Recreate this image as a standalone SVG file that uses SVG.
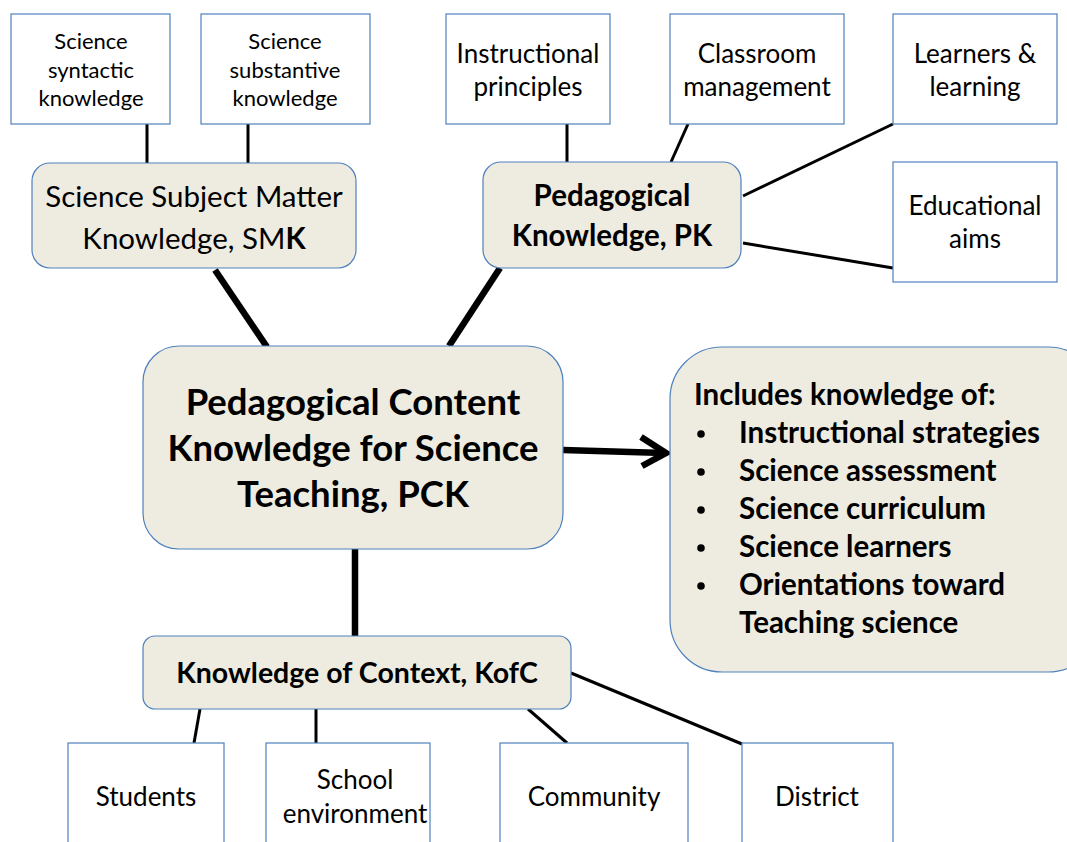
<svg xmlns="http://www.w3.org/2000/svg" width="1067" height="842" viewBox="0 0 1067 842">
  <style>
    .leaf { fill: #ffffff; stroke: #4f81bd; stroke-width: 1.2; }
    .hub { fill: #eeece1; stroke: #4f81bd; stroke-width: 1.2; }
    text { font-family: Lato, "Open Sans", "Liberation Sans", sans-serif; fill: #000; text-anchor: middle; }
    .s20 { font-size: 22px; }
    .s24 { font-size: 26px; }
    .s27 { font-size: 29.5px; }
    .b { font-weight: bold; }
    .thin { stroke: #000; stroke-width: 3; fill: none; }
    .thick { stroke: #000; stroke-width: 6.5; fill: none; }
    .list { text-anchor: start; font-size: 29.5px; font-weight: bold; }
    .dot { fill: #000; }
  </style>

  <rect width="1067" height="842" fill="#ffffff"/>

  <!-- connectors -->
  <g id="connectors">
    <line class="thin" x1="147" y1="124" x2="147" y2="163"/>
    <line class="thin" x1="248" y1="124" x2="248" y2="163"/>
    <line class="thin" x1="567" y1="124" x2="567" y2="162"/>
    <line class="thin" x1="688" y1="124" x2="671" y2="162"/>
    <line class="thin" x1="893" y1="124" x2="743" y2="196"/>
    <line class="thin" x1="743" y1="243" x2="893" y2="268"/>
    <line class="thick" x1="215" y1="270" x2="267" y2="347"/>
    <line class="thick" x1="500" y1="268" x2="449" y2="346"/>
    <line class="thick" x1="355" y1="549" x2="355" y2="636"/>
    <line class="thick" x1="563" y1="450" x2="664" y2="453"/>
    <path d="M641,437 L666,453 L642,466" fill="none" stroke="#000" stroke-width="6.5" stroke-linejoin="miter"/>
    <line class="thin" x1="200" y1="709" x2="194" y2="743"/>
    <line class="thin" x1="316" y1="709" x2="316" y2="743"/>
    <line class="thin" x1="528" y1="709" x2="567" y2="743"/>
    <line class="thin" x1="571" y1="673" x2="742" y2="744"/>
  </g>

  <!-- subject matter branch -->
  <g id="syntactic">
    <rect class="leaf" x="11" y="14" width="159" height="110"/>
    <text class="s20" x="91" y="49">Science</text>
    <text class="s20" x="91" y="78">syntactic</text>
    <text class="s20" x="91" y="106">knowledge</text>
  </g>
  <g id="substantive">
    <rect class="leaf" x="201" y="14" width="169" height="110"/>
    <text class="s20" x="285" y="49">Science</text>
    <text class="s20" x="285" y="78">substantive</text>
    <text class="s20" x="285" y="106">knowledge</text>
  </g>
  <g id="smk">
    <rect class="hub" x="32" y="163" width="324" height="105" rx="18"/>
    <text class="s27" x="194" y="207">Science Subject Matter</text>
    <text class="s27" x="194" y="249">Knowledge, SM<tspan class="b">K</tspan></text>
  </g>

  <!-- pedagogical branch -->
  <g id="instructional">
    <rect class="leaf" x="446" y="14" width="164" height="110"/>
    <text class="s24" x="528" y="63">Instructional</text>
    <text class="s24" x="528" y="96">principles</text>
  </g>
  <g id="classroom">
    <rect class="leaf" x="670" y="14" width="174" height="110"/>
    <text class="s24" x="757" y="63">Classroom</text>
    <text class="s24" x="757" y="96">management</text>
  </g>
  <g id="learners">
    <rect class="leaf" x="893" y="14" width="164" height="110"/>
    <text class="s24" x="975" y="63">Learners &amp;</text>
    <text class="s24" x="975" y="96">learning</text>
  </g>
  <g id="aims">
    <rect class="leaf" x="893" y="162" width="164" height="120"/>
    <text class="s24" x="975" y="215">Educational</text>
    <text class="s24" x="975" y="248">aims</text>
  </g>
  <g id="pk">
    <rect class="hub" x="483" y="162" width="258" height="106" rx="18"/>
    <text class="s27 b" x="612" y="206">Pedagogical</text>
    <text class="s27 b" x="612" y="246">Knowledge, PK</text>
  </g>

  <!-- central node -->
  <g id="pck">
    <rect class="hub" x="143" y="346" width="420" height="203" rx="36"/>
    <text class="b" style="font-size:36.5px" x="353" y="415">Pedagogical Content</text>
    <text class="b" style="font-size:36.5px" x="353" y="461">Knowledge for Science</text>
    <text class="b" style="font-size:36.5px" x="353" y="507">Teaching, PCK</text>
  </g>

  <!-- PCK components -->
  <g id="components">
    <rect class="hub" x="670" y="347" width="430" height="325" rx="52"/>
    <text class="list" x="694" y="405">Includes knowledge of:</text>
    <circle class="dot" cx="701" cy="434" r="3.8"/>
    <circle class="dot" cx="701" cy="472" r="3.8"/>
    <circle class="dot" cx="701" cy="510" r="3.8"/>
    <circle class="dot" cx="701" cy="548" r="3.8"/>
    <circle class="dot" cx="701" cy="586" r="3.8"/>
    <text class="list" x="739" y="443">Instructional strategies</text>
    <text class="list" x="739" y="481">Science assessment</text>
    <text class="list" x="739" y="519">Science curriculum</text>
    <text class="list" x="739" y="557">Science learners</text>
    <text class="list" x="739" y="595">Orientations toward</text>
    <text class="list" x="739" y="633">Teaching science</text>
  </g>

  <!-- context branch -->
  <g id="kofc">
    <rect class="hub" x="143" y="636" width="428" height="73" rx="12"/>
    <text class="b" style="font-size:28.5px" x="357" y="683">Knowledge of Context, KofC</text>
  </g>
  <g id="students">
    <rect class="leaf" x="68" y="743" width="156" height="110"/>
    <text class="s24" x="146" y="806">Students</text>
  </g>
  <g id="school">
    <rect class="leaf" x="266" y="743" width="164" height="110"/>
    <text class="s24" x="355" y="789">School</text>
    <text class="s24" x="355" y="823">environment</text>
  </g>
  <g id="community">
    <rect class="leaf" x="500" y="743" width="188" height="110"/>
    <text class="s24" x="594" y="806">Community</text>
  </g>
  <g id="district">
    <rect class="leaf" x="742" y="743" width="151" height="110"/>
    <text class="s24" x="817" y="806">District</text>
  </g>
</svg>
